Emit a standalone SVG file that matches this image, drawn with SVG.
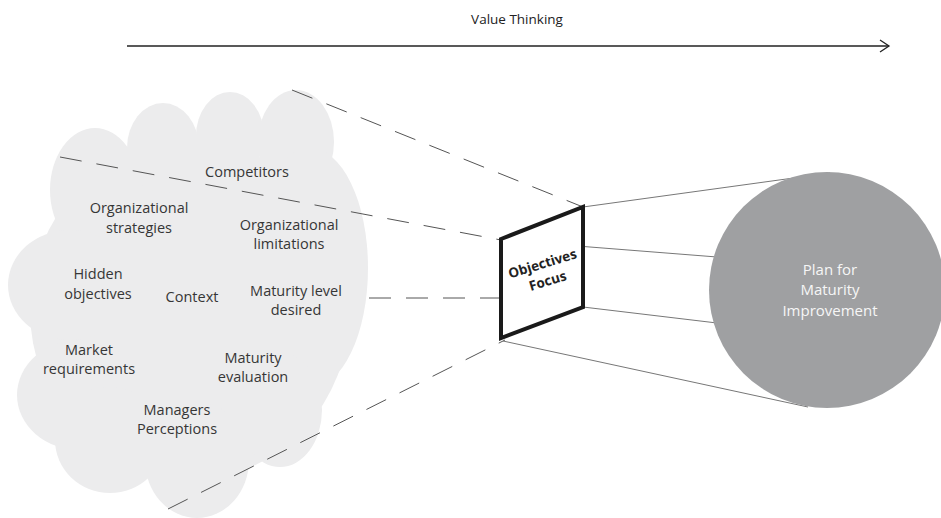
<svg xmlns="http://www.w3.org/2000/svg" width="941" height="518" viewBox="0 0 941 518">
  <defs>
    <marker id="open-arrow" markerWidth="12" markerHeight="14" refX="10" refY="7" orient="auto" markerUnits="userSpaceOnUse">
      <path d="M1,1 L10,7 L1,13" fill="none" stroke="#222" stroke-width="1.3"/>
    </marker>
  </defs>
  <style>
    .lbl { font-family: "Open Sans", "Liberation Sans", sans-serif; font-size: 14.5px; fill: #363636; text-anchor: middle; }
    .title { font-family: "Open Sans", "Liberation Sans", sans-serif; font-size: 13.5px; fill: #222; text-anchor: middle; }
    .cloud { fill: #ececed; }
    .dash { stroke: #555; stroke-width: 1; fill: none; stroke-dasharray: 22 15; }
    .ray { stroke: #777; stroke-width: 1; fill: none; }
    .white { font-family: "Open Sans", "Liberation Sans", sans-serif; font-size: 15px; fill: #f6f6f6; text-anchor: middle; }
    .bold { font-family: "Open Sans", "Liberation Sans", sans-serif; font-size: 13.5px; font-weight: bold; fill: #222; text-anchor: middle; }
  </style>
  <rect width="941" height="518" fill="#ffffff"/>

  <g id="value-thinking">
    <text class="title" x="517" y="24">Value Thinking</text>
    <line x1="127" y1="46" x2="889" y2="46" stroke="#222" stroke-width="1.3" marker-end="url(#open-arrow)"/>
  </g>

  <g id="context-cloud">
    <g class="cloud">
      <ellipse cx="190" cy="310" rx="160" ry="170"/>
      <ellipse cx="95" cy="190" rx="45" ry="62"/>
      <ellipse cx="163" cy="148" rx="36" ry="45"/>
      <ellipse cx="230" cy="136" rx="34" ry="44"/>
      <ellipse cx="296" cy="142" rx="38" ry="52"/>
      <ellipse cx="310" cy="268" rx="58" ry="120"/>
      <ellipse cx="70" cy="285" rx="62" ry="55"/>
      <ellipse cx="80" cy="395" rx="63" ry="55"/>
      <ellipse cx="110" cy="440" rx="55" ry="53"/>
      <ellipse cx="197" cy="460" rx="52" ry="58"/>
      <ellipse cx="280" cy="410" rx="42" ry="57"/>
    </g>
    <text class="lbl" x="247" y="177">Competitors</text>
    <text class="lbl" x="139" y="213">Organizational</text>
    <text class="lbl" x="139" y="233">strategies</text>
    <text class="lbl" x="289" y="230">Organizational</text>
    <text class="lbl" x="289" y="249">limitations</text>
    <text class="lbl" x="98" y="279">Hidden</text>
    <text class="lbl" x="98" y="299">objectives</text>
    <text class="lbl" x="192" y="302">Context</text>
    <text class="lbl" x="296" y="296">Maturity level</text>
    <text class="lbl" x="296" y="315">desired</text>
    <text class="lbl" x="89" y="355">Market</text>
    <text class="lbl" x="89" y="374">requirements</text>
    <text class="lbl" x="253" y="363">Maturity</text>
    <text class="lbl" x="253" y="382">evaluation</text>
    <text class="lbl" x="177" y="415">Managers</text>
    <text class="lbl" x="177" y="434">Perceptions</text>
  </g>

  <g id="connectors">
    <line class="dash" x1="292" y1="90" x2="583" y2="207"/>
    <line class="dash" x1="60" y1="157" x2="501" y2="240"/>
    <line class="dash" x1="369" y1="298" x2="501" y2="298"/>
    <line class="dash" x1="168" y1="509" x2="505" y2="340"/>
    <line class="ray" x1="583" y1="207" x2="830" y2="173"/>
    <line class="ray" x1="501" y1="240" x2="717" y2="257"/>
    <line class="ray" x1="583" y1="307" x2="717" y2="323"/>
    <line class="ray" x1="503" y1="341" x2="808" y2="407"/>
  </g>

  <g id="objectives-focus">
    <polygon points="501,239 583,207 583,307 501,338" fill="#ffffff" stroke="#1a1a1a" stroke-width="4" stroke-linejoin="miter"/>
    <g transform="translate(545,272) rotate(-17)">
      <text class="bold" x="0" y="-4">Objectives</text>
      <text class="bold" x="0" y="14">Focus</text>
    </g>
  </g>

  <g id="plan-circle">
    <circle cx="827" cy="290" r="118" fill="#9fa0a2"/>
    <text class="white" x="830" y="275">Plan for</text>
    <text class="white" x="830" y="295">Maturity</text>
    <text class="white" x="830" y="316">Improvement</text>
  </g>
</svg>
